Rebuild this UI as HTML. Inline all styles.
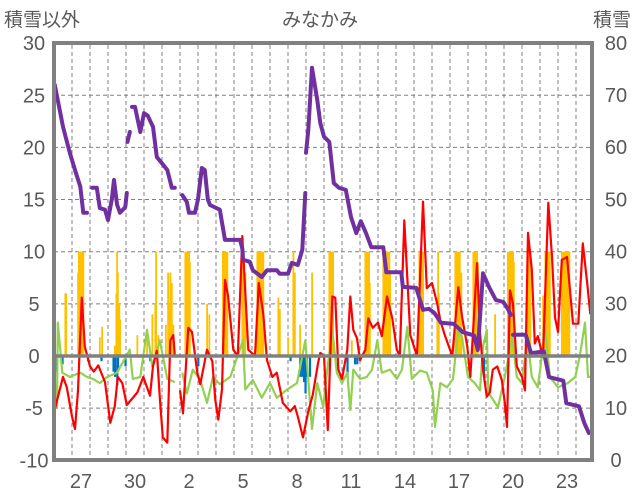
<!DOCTYPE html>
<html><head><meta charset="utf-8"><style>
body{margin:0;background:#fff;}
svg{display:block;font-family:"Liberation Sans","Noto Sans CJK JP",sans-serif;}
</style></head><body>
<svg id="chart" width="636" height="501" viewBox="0 0 636 501" xmlns="http://www.w3.org/2000/svg">
<text x="4" y="26" font-size="19" fill="#595959">積雪以外</text>
<text x="320" y="26" font-size="19" fill="#595959" text-anchor="middle">みなかみ</text>
<text x="631" y="26" font-size="19" fill="#595959" text-anchor="end">積雪</text>
<g id="grid"></g><g id="bars"></g><g id="lines"></g><g id="axes"></g>
</svg>
<script>
const leftTicks=[30,25,20,15,10,5,0,-5,-10];
const rightTicks=[80,70,60,50,40,30,20,10,0];
const dayLabels=["27","30","2","5","8","11","14","17","20","23"];
const dayLabelIdx=[1,4,7,10,13,16,19,22,25,28];
const precipHours=[15,16,32,33,35,36,37,39,61,64,81,83,84,85,87,88,111,124,131,135,136,139,149,152,153,155,157,159,175,176,177,179,180,181,204,207,225,227,228,229,231,251,252,253,255,271,272,273,275,276,277,279,299,301,312,319,321,328,344,367,368,369,371,372,397,415,416,417,419,420,421,439,440,441,443,444,445,447,448,487,488,489,491,492,511,512,513,535,536,537,539,540,541,543,559,560,561,563,564,565,588,605,607,608,609,611,612,613,631,632,633,635,652,655,656,657,659,660,661,677,679,680,681,683,684,685,687];
const precipValues=[6,6,8,10,10,10,10,10,1.8,2.8,1,6,10,8,5,3.5,2,2.6,4,5,10,2,3,8,5,8,7,3,10,10,10,10,10,9,5,4,10,10,10,10,10,10,10,10,8,10,10,10,10,10,10,10,5.6,4.5,1.8,10,8,3,8,10,10,10,10,10,1.5,10,10,10,10,10,7,10,10,10,10,10,10,10,8,10,10,10,10,10,4,10,6,10,10,10,10,10,10,8,10,10,10,10,10,9,4,10,10,10,10,10,10,9,10,10,10,10,5.8,10,10,10,10,10,10,10,10,10,10,10,10,10,10];
const negHours=[0,1,3,11,45,63,79,81,84,85,95,128,192,315,328,331,333,335,337,341,391,401,404,573];
const negValues=[-2,-2,-1.5,-0.8,-0.5,-0.5,-1.5,-2,-2.8,-1.5,-1,-0.5,-1,-0.5,-2,-2,-2.5,-3.6,-2,-2,-2,-0.8,-0.8,-2];
const tempHours=[0,12,17,24,28,32,37,41,48,53,59,68,75,81,85,91,97,111,119,128,132,137,141,145,151,155,159,161,165,168,172,179,184,191,195,204,211,215,219,224,228,232,239,245,251,259,268,273,279,284,291,297,305,315,321,325,332,339,345,352,355,360,365,371,375,379,384,391,395,399,404,408,415,419,425,432,437,444,451,457,461,467,475,484,492,497,504,511,515,521,531,539,544,551,555,559,564,568,572,577,581,585,591,597,601,604,608,612,617,624,628,632,637,641,645,652,659,664,668,672,677,684,688,692,699,705,711,715];
const tempValues=[-5.4,-2,-3,-5.8,-7,-3.3,5.6,0.9,-1,-1.5,-0.9,-2.5,-6.4,-4.8,-2,-2.6,-4.7,-3.5,-2,-3.8,-1,0.5,-4,-7.8,-8.3,1.5,2,0,null,-3.3,-5.5,2.7,2.3,-1.6,-2.7,0.6,-0.5,-4.2,-6.1,-3.2,7.3,5.8,0.6,0,11.5,0.6,0,7,4,-0.4,-2,-1.6,-4.5,-5.3,-4.8,-5.8,-7.8,-5.3,-3.7,-0.7,0.3,0,-7.1,5.7,5.6,-1.3,-2.2,0.6,5.7,2.5,1.7,-0.4,0.6,3.6,2.7,3.2,1.9,5.7,3.6,0.6,0,13,2,0,14.8,6.5,7,5,3.4,2,0,6.6,3.8,0.9,-2,2.7,8.9,2.3,-1.3,-3.9,-3.5,-1.3,-1,-2.3,-4.5,-6.8,6.3,5,-1,-2,-3.3,11.8,8.3,1.2,1.9,-0.1,14.7,9.5,3.7,2.3,9.2,9.5,6.3,3.1,3.1,10.8,6.9,4];
const greenHours=[0,4,5,11,21,35,44,52,61,71,84,101,105,115,124,131,141,151,161,166,171,177,185,195,204,212,221,235,252,255,265,277,288,297,311,324,335,344,351,359,364,371,377,384,391,395,399,408,417,424,431,437,448,457,464,471,477,488,497,505,508,515,524,532,539,544,552,561,568,572,577,579,592,601,611,617,624,631,637,645,655,661,672,685,695,701,708,712,717];
const greenValues=[-1.6,-4.9,3.2,-1.6,-2,-1.6,-2,-2.2,-2.6,-2,-1.6,0.6,-2.2,-2,2.5,-1,1.5,-2.2,-2.5,null,-1.6,-3.6,-1.3,-2.3,-4.5,-2,-2.7,-2,1.5,-3.2,-2.3,-4,-2.6,-4,-3.2,-2.6,1.5,-7,-2.6,-4.9,-1.5,2.5,-1.6,-2.6,-1.6,-5.2,-1.3,-2.2,-2,-1.3,1.5,-1.6,-1.3,-2.2,-1.3,2.8,-2.2,-1.4,-1.6,-3.3,-6.8,-2.6,-3,-2.2,2.5,1.8,-2,-2.6,-3.3,0.9,2.5,-3.5,-4.9,-2,1.8,-2,-2.6,1.8,-2,-3,2.5,-2,-3,-2.6,-2,0,3.2,-2,-2];
const snowHours=[1,12,21,28,35,39,44,48,51,57,61,68,72,77,80,84,88,95,97,97.5,98,101,102,104,108,115,120,125,132,137,144,151,157,161,166,171,177,180,188,192,197,201,205,208,221,228,248,251,252,261,265,277,284,297,301,312,317,325,331,335,335.5,336,339,344,351,355,360,367,373,380,389,396,403,409,416,423,439,443,463,465,483,492,500,507,516,533,545,560,565,572,580,589,599,605,609,610,612,629,636,653,660,679,683,700,707,713];
const snowValues=[71.9,63.9,58.9,55.6,52.4,47.4,47.4,null,52.2,52.2,48.3,48,46,50,53.7,49,47.4,48.5,51.2,null,61,62.9,null,67.7,67.7,62.9,66.5,66,63.9,58.1,56.9,55.6,52.2,52.2,null,50.8,49.5,47.4,47.4,50,56,55.6,50,48.9,48,42.2,42.2,40.6,38.4,38,36.4,35.1,36.4,36.4,35.7,35.7,37.8,37.4,40.3,51.2,null,58.9,63.3,75.2,69,64.6,62,61,53.1,52.2,51.8,46.6,43.5,45.8,43.5,40.8,40.8,36,36,33.2,33,28.8,29,28.2,26.3,26.1,24.5,23.9,21.1,35.8,33.2,30.7,30.3,29,27.8,null,24,24,20.5,20.8,15.9,15.2,10.9,10.3,7.1,5.2];

const X0=54,PXH=0.75;
function xs(h){return X0+h*PXH;}
function yl(v){return 356-v*10.43;}
function yr(v){return 460-v*5.215;}
const NS="http://www.w3.org/2000/svg";
function mk(tag,attrs,parent){const e=document.createElementNS(NS,tag);for(const k in attrs)e.setAttribute(k,attrs[k]);parent.appendChild(e);return e;}
const grid=document.getElementById('grid'),bars=document.getElementById('bars'),lines=document.getElementById('lines'),axes=document.getElementById('axes');
leftTicks.forEach(t=>{
  if(t!==30&&t!==-10&&t!==0){const g=mk('line',{x1:54,x2:592,y1:yl(t),y2:yl(t),stroke:'#808080','stroke-width':1,'stroke-dasharray':'4,3'},grid);
  
  }
  const tx=mk('text',{x:34,y:yl(t)+7,'font-size':20,fill:'#595959','text-anchor':'middle'},axes);tx.textContent=t;
  
  
});
rightTicks.forEach(t=>{
  const tx=mk('text',{x:616,y:yr(t)+7,'font-size':20,fill:'#595959','text-anchor':'middle'},axes);tx.textContent=t;
  
  
});
for(let d=1;d<30;d++){const g=mk('line',{x1:X0+d*18,x2:X0+d*18,y1:45,y2:458,stroke:'#808080','stroke-width':1,'stroke-dasharray':'4,3'},grid);
  
  }
dayLabels.forEach((l,i)=>{const tx=mk('text',{x:X0+dayLabelIdx[i]*18+9,y:488,'font-size':20,fill:'#595959','text-anchor':'middle'},axes);tx.textContent=l;
  
  });
precipHours.forEach((h,i)=>{const v=precipValues[i];const r=mk('rect',{x:xs(h)-0.8,y:yl(v),width:1.8,height:yl(0)-yl(v),fill:'#ffc000'},bars);
  
  });
negHours.forEach((h,i)=>{const v=negValues[i];const r=mk('rect',{x:xs(h)-0.8,y:yl(0),width:2.2,height:yl(v)-yl(0),fill:'#0070c0'},bars);
  
  });
function path(hs,vs,yf){let d='',pen=false;hs.forEach((h,i)=>{const v=vs[i];if(v===null){pen=false;return;}d+=(pen?'L':'M')+xs(h).toFixed(1)+','+yf(v).toFixed(1);pen=true;});return d;}
const gp=mk('path',{d:path(greenHours,greenValues,yl),fill:'none',stroke:'#92d050','stroke-width':2.2,'stroke-linejoin':'round'},lines);


const rp=mk('path',{d:path(tempHours,tempValues,yl),fill:'none',stroke:'#ff0000','stroke-width':2.2,'stroke-linejoin':'round'},lines);


const sp=mk('path',{d:path(snowHours,snowValues,yr),fill:'none',stroke:'#7030a0','stroke-width':4,'stroke-linejoin':'round','stroke-linecap':'round'},lines);


const z=mk('line',{x1:54,x2:592,y1:yl(0),y2:yl(0),stroke:'#808080','stroke-width':3.5},axes);


const f=mk('rect',{x:54,y:43,width:538,height:417,fill:'none',stroke:'#808080','stroke-width':4},axes);


</script>
</body></html>
